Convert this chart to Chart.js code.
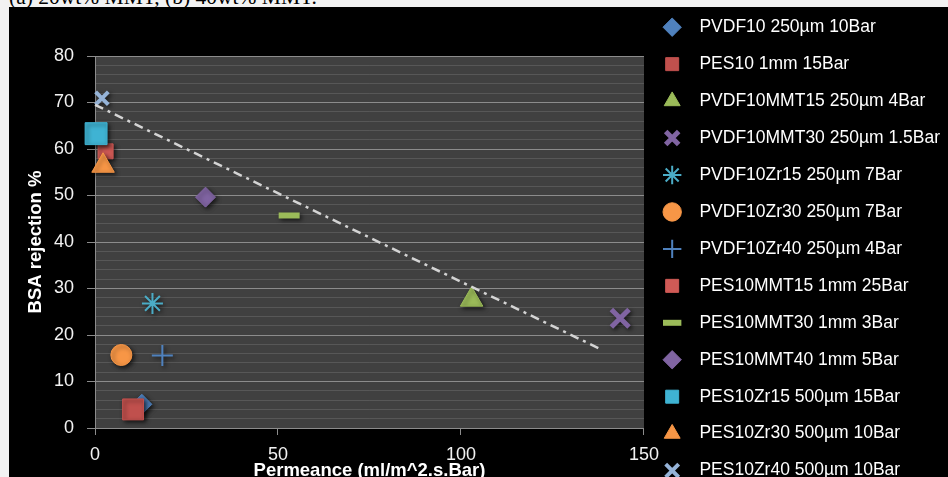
<!DOCTYPE html>
<html>
<head>
<meta charset="utf-8">
<script src="https://cdn.jsdelivr.net/npm/chart.js@4.4.1/dist/chart.umd.min.js"></script>
<style>
    html, body { margin: 0; padding: 0; width: 948px; height: 477px; overflow: hidden; background: #f2f2f2; }
    #caption { position: absolute; left: 9px; top: -13px; font: 21.5px/21.5px "Liberation Serif", serif; color: #000; white-space: nowrap; }
    #fondo { position: absolute; left: 9px; top: 7px; width: 950px; height: 480px; background: #000; }
    #grafico { position: absolute; left: 9px; top: -1px; }
</style>
</head>
<body>
<div id="caption">(a) 20wt% MMT, (b) 40wt% MMT.</div>
<div id="fondo"></div>
<canvas id="grafico" width="941" height="519"></canvas>
<script>
// series
const seriesNames = [
    'PVDF10 250µm 10Bar',
    'PES10 1mm 15Bar',
    'PVDF10MMT15 250µm 4Bar',
    'PVDF10MMT30 250µm 1.5Bar',
    'PVDF10Zr15 250µm 7Bar',
    'PVDF10Zr30 250µm 7Bar',
    'PVDF10Zr40 250µm 4Bar',
    'PES10MMT15 1mm 25Bar',
    'PES10MMT30 1mm 3Bar',
    'PES10MMT40 1mm 5Bar',
    'PES10Zr15 500µm 15Bar',
    'PES10Zr30 500µm 10Bar',
    'PES10Zr40 500µm 10Bar'
]
const permeance = [12.8, 10.4, 102.9, 143.5, 15.7, 7.2, 18.4, 2.9, 53.05, 30.2, 0.3, 2.2, 1.9]
const rejection = [5.1, 4.0, 27.6, 23.6, 26.8, 15.7, 15.6, 59.5, 45.7, 49.65, 63.3, 56.4, 70.9]

// linear trend line (two end points)
const trendPermeance = [0, 138]
const trendRejection = [69.5, 17.0]

const xTicks = [0, 50, 100, 150]

// marker looks, same order as seriesNames
const markerStyles = ['rectRot', 'rect', 'triangle', 'crossRot', 'star', 'circle', 'cross', 'rect', 'line', 'rectRot', 'rect', 'triangle', 'crossRot']
const markerColors = ['#4f81bd', '#c0504d', '#9bbb59', '#8064a2', '#4bacc6', '#f79646', '#4f81bd', '#d05a56', '#9bbb59', '#8064a2', '#3fb3d3', '#f79646', '#95b3d7']
const markerSizes = [10, 14.8, 13, 12.5, 10.5, 10.5, 10.5, 10.6, 10.5, 10, 15.5, 13, 9]
const markerBorders = [1, 1, 1, 5, 2, 1, 2, 1, 6, 1, 1, 1, 4]

const corGradeMaior = '#8c8c8c'
const corGradeMenor = '#575757'

const fundoAreaGrafico = {
    id: 'fundoAreaGrafico',
    beforeDraw(chart) {
        const { ctx, chartArea } = chart
        ctx.save()
        ctx.fillStyle = '#404040'
        ctx.fillRect(chartArea.left, chartArea.top, chartArea.width, chartArea.height)
        ctx.restore()
    }
}

// soft shadow under the markers, like the Excel original
const sombraMarcadores = {
    id: 'sombraMarcadores',
    beforeDatasetDraw(chart, args) {
        if (args.index >= seriesNames.length) return
        const ctx = chart.ctx
        ctx.save()
        ctx.shadowColor = 'rgba(0,0,0,0.65)'
        ctx.shadowBlur = 4
        ctx.shadowOffsetX = 2
        ctx.shadowOffsetY = 2
    },
    afterDatasetDraw(chart, args) {
        if (args.index >= seriesNames.length) return
        chart.ctx.restore()
    }
}

let datasets = []
for (let i = 0; i < seriesNames.length; i++) {
    datasets.push({
        type: 'scatter',
        label: seriesNames[i],
        data: [{ x: permeance[i], y: rejection[i] }],
        pointStyle: markerStyles[i],
        pointRadius: markerSizes[i],
        pointHoverRadius: markerSizes[i],
        backgroundColor: markerColors[i],
        borderColor: markerColors[i],
        borderWidth: markerBorders[i],
        clip: false,
        order: -i
    })
}

datasets.push({
    type: 'line',
    label: 'Tendência',
    data: trendPermeance.map((x, i) => ({ x: x, y: trendRejection[i] })),
    borderColor: '#d4d4d4',
    borderWidth: 2.5,
    borderDash: [9, 5, 3, 5],
    pointRadius: 0,
    fill: false,
    clip: false,
    order: -100
})

new Chart(document.getElementById('grafico'), {
    type: 'scatter',
    data: { datasets: datasets },
    options: {
        responsive: false,
        animation: false,
        layout: { padding: 0 },
        plugins: {
            title: {
                display: true,
                text: '',
                fullSize: false,
                font: { size: 10, lineHeight: 1 },
                padding: { top: 47, bottom: 0 }
            },
            tooltip: { enabled: false },
            legend: {
                position: 'right',
                align: 'start',
                maxWidth: 320,
                labels: {
                    usePointStyle: true,
                    boxHeight: 13,
                    padding: 19.45,
                    color: '#ffffff',
                    font: { family: 'Liberation Sans', size: 17.5 },
                    generateLabels: function (chart) {
                        let itens = Chart.defaults.plugins.legend.labels.generateLabels(chart)
                        return itens
                            .filter(item => item.datasetIndex < seriesNames.length)
                            .sort((a, b) => a.datasetIndex - b.datasetIndex)
                            .map(item => { item.text = '  ' + item.text; return item })
                    }
                }
            }
        },
        scales: {
            x: {
                type: 'linear',
                min: 0,
                max: 150,
                afterFit: function (scale) { scale.height = 90 },
                afterBuildTicks: function (scale) { scale.ticks = xTicks.map(v => ({ value: v })) },
                ticks: {
                    color: '#f2f2f2',
                    padding: 9,
                    font: { family: 'Liberation Sans', size: 18 }
                },
                grid: {
                    drawOnChartArea: false,
                    drawTicks: true,
                    tickLength: 7,
                    color: corGradeMaior
                },
                border: { display: true, color: corGradeMaior },
                title: {
                    display: true,
                    text: 'Permeance (ml/m^2.s.Bar)',
                    color: '#ffffff',
                    font: { family: 'Liberation Sans', size: 18.5, weight: 'bold' },
                    padding: { top: 0, bottom: 35.8 }
                }
            },
            y: {
                type: 'linear',
                min: 0,
                max: 80,
                afterFit: function (scale) { scale.width = 86 },
                ticks: {
                    stepSize: 2,
                    autoSkip: false,
                    color: '#f2f2f2',
                    padding: 13,
                    font: { family: 'Liberation Sans', size: 18 },
                    callback: function (value) {
                        return value % 10 === 0 ? value : ''
                    }
                },
                grid: {
                    tickLength: 8,
                    color: function (context) {
                        return context.tick && context.tick.value % 10 === 0 ? corGradeMaior : corGradeMenor
                    },
                    tickColor: function (context) {
                        return context.tick && context.tick.value % 10 === 0 ? corGradeMaior : 'rgba(0,0,0,0)'
                    }
                },
                border: { display: true, color: corGradeMaior },
                title: {
                    display: true,
                    text: 'BSA rejection %',
                    color: '#ffffff',
                    font: { family: 'Liberation Sans', size: 18.5, weight: 'bold' },
                    padding: { top: 15.8, bottom: 0 }
                }
            }
        }
    },
    plugins: [fundoAreaGrafico, sombraMarcadores]
})
</script>
</body>
</html>
